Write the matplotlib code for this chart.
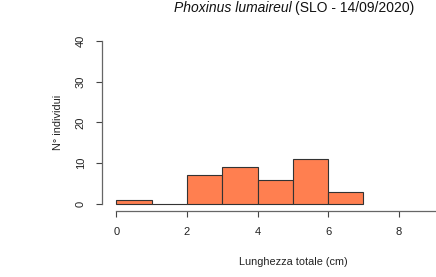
import numpy as np
import matplotlib
matplotlib.use("Agg")
import matplotlib.pyplot as plt

# istogramma lunghezze (classi di 1 cm)
bin_edges = [0, 1, 2, 3, 4, 5, 6, 7]
conteggi = [1, 0, 7, 9, 6, 11, 3]
x_ticks = [0, 2, 4, 6, 8]
y_ticks = [0, 10, 20, 30, 40]

plt.rcParams['font.family'] = ['Liberation Sans', 'DejaVu Sans']

W, H = 436, 277
fig = plt.figure(figsize=(W / 100, H / 100), dpi=100)

# posizione assi in pixel (stile R)
left_px, right_px, top_px, bottom_px = 101.7, 436, 30, 211
ax = fig.add_axes([left_px / W, (H - bottom_px) / H,
                   (right_px - left_px) / W, (bottom_px - top_px) / H])

px_x = 35.3   # pixel per unita' x
px_y = 4.08   # pixel per unita' y
x0, y0 = 116.3, 204
ax.set_xlim((left_px - x0) / px_x, (right_px - x0) / px_x)
ax.set_ylim(-(bottom_px - y0) / px_y, (y0 - top_px) / px_y)

lefts = bin_edges[:-1]
widths = np.diff(bin_edges)
ax.bar(lefts, conteggi, width=widths, align='edge', color='#FF7F50',
       edgecolor='#333333', linewidth=0.8)

for s in ['top', 'right']:
    ax.spines[s].set_visible(False)
ax.spines['left'].set_bounds(0, 40)
ax.spines['bottom'].set_bounds(0, 9.2)
for s in ['left', 'bottom']:
    ax.spines[s].set_color('#666666')
    ax.spines[s].set_linewidth(0.9)

ax.set_xticks(x_ticks)
ax.set_yticks(y_ticks)
ax.tick_params(axis='both', direction='out', length=4.5, width=0.8,
               color='#444444', labelsize=8, labelcolor='#222222', pad=7)
for lab in ax.get_yticklabels():
    lab.set_rotation(90)
    lab.set_va('center')

fig.text(58 / W, 1 - 122 / H, "N° individui", rotation=90, ha='center',
         va='center', fontsize=7.8, color='#222222')
fig.text(293 / W, 1 - 262 / H, "Lunghezza totale (cm)", ha='center',
         va='center', fontsize=7.8, color='#222222')

# titolo: nome specie in corsivo + resto normale
fig.text(292 / W, 1 - 8 / H, "Phoxinus lumaireul", style='italic',
         ha='right', va='center', fontsize=10, color='#111111')
fig.text(295 / W, 1 - 8 / H, "(SLO - 14/09/2020)",
         ha='left', va='center', fontsize=10, color='#111111')

fig.savefig("out.png", dpi=100)
